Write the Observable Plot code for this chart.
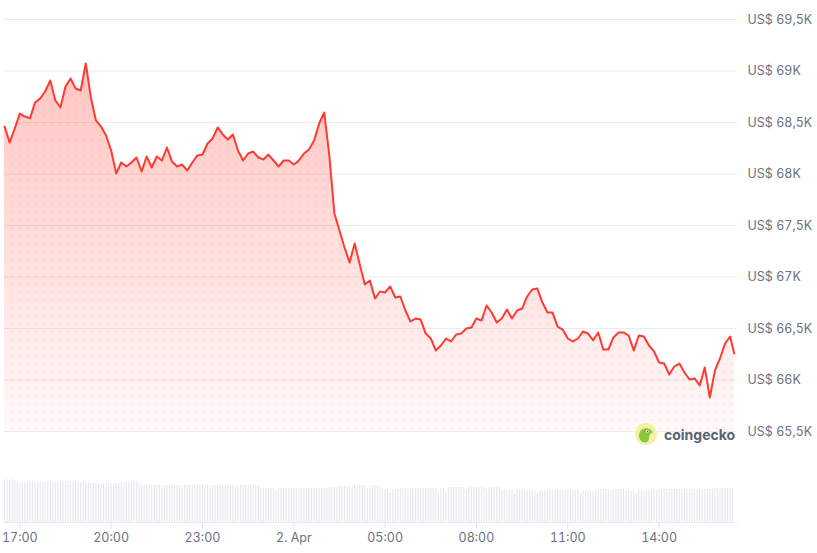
<!DOCTYPE html>
<html><head><meta charset="utf-8">
<script src="https://cdn.jsdelivr.net/npm/d3@7"></script>
<script src="https://cdn.jsdelivr.net/npm/@observablehq/plot@0.6"></script>
<style>
body{margin:0;background:#fff;font-family:Inter,"Noto Sans",sans-serif;}
#wrap{position:relative;width:817px;height:553px;overflow:hidden;}
#wrap svg.plot-layer{position:absolute;left:0;top:0;}
#logo{position:absolute;left:635px;top:423px;display:flex;align-items:center;gap:7px;height:22px;}
#logo span{font-family:Inter,sans-serif;font-weight:700;font-size:14px;color:#5b6270;}
</style></head><body>
<div id="wrap">
  <div id="logo"><svg width="22" height="22" viewBox="0 0 22 22"><circle cx="11" cy="11" r="11" fill="#f6efa6"/><path d="M4 13 C4 7 9 4.5 13 5.5 C16 6.3 17.5 8 18 9.5 C15.5 10.5 14 12 14 15 C14 17.5 12.5 19.5 10 19.5 C6.5 19.5 4 16.5 4 13 Z" fill="#8cc63f"/><circle cx="12.3" cy="8.6" r="1.3" fill="#ffffff"/><circle cx="12.5" cy="8.7" r="0.6" fill="#333"/></svg><span>coingecko</span></div>
</div>
<script>
// ---- data ----
const startTime = new Date(2024, 3, 1, 16, 30);
const endTime = new Date(2024, 3, 2, 16, 30);
const priceStepMinutes = 10;
const lastPriceTime = new Date(2024, 3, 2, 16, 28);
const prices = [
  68460,68306,68442,68587,68558,68540,68694,68733,68801,68908,
  68714,68646,68850,68927,68830,68811,69073,68743,68520,68461,
  68374,68228,68005,68112,68073,68112,68160,68024,68170,68063,
  68170,68131,68257,68121,68073,68092,68034,68112,68180,68189,
  68296,68345,68452,68384,68335,68384,68228,68131,68199,68218,
  68160,68141,68189,68131,68073,68131,68131,68092,68131,68199,
  68238,68325,68490,68597,68180,67617,67452,67286,67141,67325,
  67121,66927,66966,66791,66859,66850,66908,66801,66811,66675,
  66568,66597,66587,66451,66403,66286,66335,66403,66374,66442,
  66451,66500,66510,66597,66577,66723,66655,66558,66597,66684,
  66597,66675,66694,66811,66879,66888,66752,66655,66655,66519,
  66490,66403,66374,66403,66471,66451,66384,66461,66296,66296,
  66413,66461,66461,66432,66286,66432,66422,66335,66277,66170,
  66160,66053,66131,66160,66073,66005,66015,65947,66121,65830,
  66092,66209,66354,66422,66257
];
const volumeStepMinutes = 5;
const volumes = [
  42,43,42,43,42,40,40,40,40,40,40,40,39,40,40,40,40,40,40,40,40,40,40,41,
  40,41,41,40,40,40,40,40,39,40,39,39,39,39,39,39,39,39,39,39,39,39,40,40,
  40,40,40,40,40,37,37,37,37,37,37,37,37,37,37,37,37,37,37,37,37,37,37,37,
  37,37,37,37,37,37,37,37,37,37,37,37,37,37,37,37,37,37,37,37,37,37,37,37,
  37,37,37,37,37,34,34,34,34,34,34,33,34,34,34,34,34,34,34,34,34,34,34,34,
  34,34,34,34,34,34,34,34,35,35,35,35,36,36,36,36,36,34,37,37,37,37,37,34,
  37,37,37,37,35,33,33,33,30,33,33,33,34,34,34,33,34,34,34,34,34,34,34,34,
  34,34,34,30,34,34,30,35,35,35,35,35,35,35,32,35,35,35,35,35,35,35,32,35,
  35,35,35,35,32,32,32,32,32,29,32,32,32,32,32,32,32,32,29,32,32,32,32,32,
  32,32,32,32,32,32,32,32,32,32,32,29,32,32,32,32,32,32,33,33,33,33,33,31,
  33,33,33,33,33,31,31,31,32,29,32,32,32,32,32,32,32,32,32,32,33,33,33,33,
  33,33,33,33,33,33,33,33,33,33,33,33,33,33,33,33,34,34,34,34,34,34,34,34
];
const priceTicks = [65500, 66000, 66500, 67000, 67500, 68000, 68500, 69000, 69500];
const timeTicks = [
  new Date(2024, 3, 1, 17), new Date(2024, 3, 1, 20), new Date(2024, 3, 1, 23),
  new Date(2024, 3, 2, 2), new Date(2024, 3, 2, 5), new Date(2024, 3, 2, 8),
  new Date(2024, 3, 2, 11), new Date(2024, 3, 2, 14)
];
const timeTickLabels = ["17:00", "20:00", "23:00", "2. Apr", "05:00", "08:00", "11:00", "14:00"];

// ---- tables ----
const MIN = 60000;
const priceData = prices.map((p, i) => ({
  time: i === prices.length - 1 ? lastPriceTime : new Date(+startTime + i * priceStepMinutes * MIN),
  price: p
}));
const volumeData = volumes.map((v, j) => ({time: new Date(+startTime + j * volumeStepMinutes * MIN), volume: v}));
const labelByTime = new Map(timeTicks.map((t, i) => [+t, timeTickLabels[i]]));
const fmtPrice = v => "US$ " + String(v / 1000).replace(".", ",") + "K";
const yBase = priceTicks[0];

const common = {
  width: 817, height: 553, marginLeft: 4, marginRight: 80, marginTop: 10, marginBottom: 31,
  style: {fontFamily: "Inter, 'Noto Sans', sans-serif", fontSize: "12.5px", color: "#6b7280", background: "transparent", overflow: "visible"}
};
const xScale = {type: "time", domain: [startTime, endTime], range: [4.1, 734.7]};

const defsMark = () => {
  const ns = "http://www.w3.org/2000/svg";
  const defs = document.createElementNS(ns, "defs");
  defs.innerHTML = '<linearGradient id="priceGrad" x1="0" y1="0" x2="0" y2="1">' +
    '<stop offset="0" stop-color="#ff3b30" stop-opacity="0.3"/>' +
    '<stop offset="1" stop-color="#ff3b30" stop-opacity="0.03"/></linearGradient>' +
    '<pattern id="dots" width="8" height="8" patternUnits="userSpaceOnUse">' +
    '<circle cx="4" cy="4" r="1.3" fill="#ff3b30" fill-opacity="0.06"/></pattern>';
  return defs;
};

const main = Plot.plot({
  ...common,
  x: {...xScale, axis: null},
  y: {domain: [65500, 69500], range: [431, 19], axis: null},
  marks: [
    defsMark,
    Plot.ruleY(priceTicks, {stroke: "#ebebeb", strokeWidth: 1}),
    Plot.areaY(priceData, {x: "time", y1: () => yBase, y2: "price", fill: "url(#priceGrad)"}),
    Plot.areaY(priceData, {x: "time", y1: () => yBase, y2: "price", fill: "url(#dots)"}),
    Plot.lineY(priceData, {x: "time", y: "price", stroke: "#ff3a33", strokeWidth: 2, strokeLinejoin: "round"}),
    Plot.axisY(priceTicks, {anchor: "right", label: null, tickSize: 0, tickPadding: 10, tickFormat: fmtPrice, fill: "#6b7280"})
  ]
});
main.classList.add("plot-layer");

const vol = Plot.plot({
  ...common,
  x: {...xScale, axis: null},
  y: {domain: [0, 43], range: [522, 479], axis: null},
  marks: [
    Plot.ruleX(volumeData, {x: "time", y1: 0, y2: "volume", stroke: "#e6eaef", strokeWidth: 1.2}),
    Plot.ruleY([0], {stroke: "#e6e9ee"}),
    Plot.axisX(timeTicks, {anchor: "bottom", label: null, tickSize: 7, tickPadding: 4, tickFormat: d => labelByTime.get(+d), stroke: "#e3e6eb", fill: "#6b7280"})
  ]
});
vol.classList.add("plot-layer");

const wrap = document.getElementById("wrap");
wrap.insertBefore(vol, wrap.firstChild);
wrap.insertBefore(main, wrap.firstChild);
</script>
</body></html>
